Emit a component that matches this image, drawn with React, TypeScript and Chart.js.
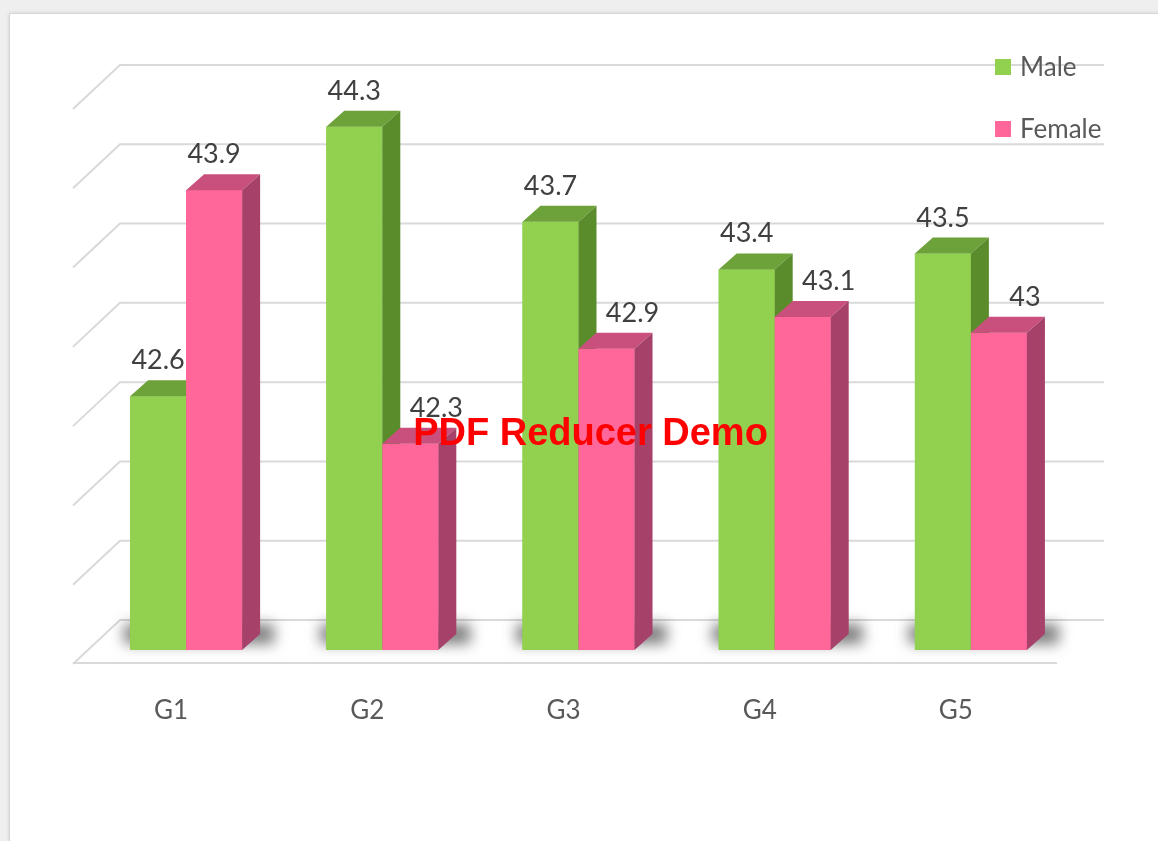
import React, { useEffect, useRef } from "react";
import { Chart, registerables } from "chart.js";

Chart.register(...registerables);

// ---- data ----
const categories = ["G1", "G2", "G3", "G4", "G5"];
const maleValues = [42.6, 44.3, 43.7, 43.4, 43.5];
const femaleValues = [43.9, 42.3, 42.9, 43.1, 43.0];
const seriesNames = ["Male", "Female"];
const yMin = 41;
const yMax = 44.5;
const yStep = 0.5;
const watermarkText = "PDF Reducer Demo";

// ---- styles ----
const FRONT = ["#92d050", "#ff6699"];
const TOP = ["#6da13a", "#c94f7c"];
const SIDE = ["#5b8c2c", "#a6426a"];
const DX = 18;
const DY = -16;
const FONT = "Lato, 'Open Sans', sans-serif";

const threeD = {
  id: "threeD",
  beforeDatasetsDraw(chart: any) {
    const { ctx, chartArea, scales } = chart;
    const y = scales.y;
    ctx.save();
    ctx.strokeStyle = "#d9d9d9";
    ctx.lineWidth = 2;
    const wl = chartArea.left + 32;
    const wr = chartArea.right + 35;
    const sx = chartArea.left - 15;
    y.ticks.forEach((t: any) => {
      const yb = y.getPixelForValue(t.value) - 30;
      ctx.beginPath();
      ctx.moveTo(sx, yb + 44);
      ctx.lineTo(wl, yb);
      ctx.lineTo(wr, yb);
      ctx.stroke();
    });
    const yf = y.getPixelForValue(yMin) + 13;
    ctx.beginPath();
    ctx.moveTo(sx, yf);
    ctx.lineTo(chartArea.right - 12, yf);
    ctx.stroke();

    // floor shadows
    const m0 = chart.getDatasetMeta(0).data;
    const m1 = chart.getDatasetMeta(1).data;
    const floor = y.getPixelForValue(yMin);
    ctx.filter = "blur(7px)";
    ctx.fillStyle = "rgba(40,40,40,0.6)";
    for (let i = 0; i < m0.length; i++) {
      const a = m0[i];
      const b = m1[i];
      const l = a.x - a.width / 2 - 6;
      const r = b.x + b.width / 2 + DX + 14;
      ctx.fillRect(l, floor - 26, r - l, 20);
    }
    ctx.restore();
  },
  afterDatasetsDraw(chart: any) {
    const { ctx, scales } = chart;
    const floor = scales.y.getPixelForValue(yMin);
    const n = chart.data.labels.length;
    ctx.save();
    for (let i = 0; i < n; i++) {
      for (let di = 0; di < chart.data.datasets.length; di++) {
        const el = chart.getDatasetMeta(di).data[i];
        const { x, y, width } = el.getProps(["x", "y", "width"], true);
        const l = x - width / 2;
        const r = x + width / 2;
        ctx.fillStyle = FRONT[di];
        ctx.fillRect(l, y, width, floor - y);
        ctx.fillStyle = TOP[di];
        ctx.beginPath();
        ctx.moveTo(l, y);
        ctx.lineTo(l + DX, y + DY);
        ctx.lineTo(r + DX, y + DY);
        ctx.lineTo(r, y);
        ctx.closePath();
        ctx.fill();
        ctx.fillStyle = SIDE[di];
        ctx.beginPath();
        ctx.moveTo(r, y);
        ctx.lineTo(r + DX, y + DY);
        ctx.lineTo(r + DX, floor + DY);
        ctx.lineTo(r, floor);
        ctx.closePath();
        ctx.fill();
      }
    }
    ctx.restore();
  },
  afterDraw(chart: any) {
    const { ctx, chartArea } = chart;
    ctx.save();
    // data labels
    ctx.font = `27px ${FONT}`;
    ctx.fillStyle = "#404040";
    ctx.textAlign = "center";
    ctx.textBaseline = "alphabetic";
    chart.data.datasets.forEach((ds: any, di: number) => {
      const meta = chart.getDatasetMeta(di);
      meta.data.forEach((el: any, i: number) => {
        const v = ds.data[i];
        const other = chart.data.datasets[1 - di].data[i];
        const shift = di === 1 && v < other ? 26 : 0;
        ctx.fillText(String(v), el.x + shift, el.y - 27);
      });
    });
    // legend
    ctx.textAlign = "left";
    ctx.textBaseline = "middle";
    ctx.font = `26px ${FONT}`;
    chart.data.datasets.forEach((ds: any, di: number) => {
      const cy = chartArea.top - 28 + di * 62;
      const lx = chartArea.right - 74;
      ctx.fillStyle = ds.backgroundColor;
      ctx.fillRect(lx, cy - 8, 16, 16);
      ctx.fillStyle = "#595959";
      ctx.fillText(ds.label, lx + 25, cy + 1);
    });
    // watermark
    ctx.font = "bold 38px 'Liberation Sans', Arial, sans-serif";
    ctx.fillStyle = "#ff0000";
    ctx.textAlign = "center";
    ctx.textBaseline = "alphabetic";
    ctx.fillText(watermarkText, (chartArea.left + chartArea.right) / 2 + 12, 445);
    ctx.restore();
  },
};

export default function App() {
  const ref = useRef<HTMLCanvasElement | null>(null);
  useEffect(() => {
    let chart: any = null;
    let cancelled = false;
    const make = () => {
      if (cancelled || !ref.current) return;
      chart = new Chart(ref.current, {
        type: "bar",
        data: {
          labels: categories,
          datasets: [
            { label: seriesNames[0], data: maleValues, backgroundColor: FRONT[0], categoryPercentage: 0.571, barPercentage: 1 },
            { label: seriesNames[1], data: femaleValues, backgroundColor: FRONT[1], categoryPercentage: 0.571, barPercentage: 1 },
          ],
        },
        options: {
          responsive: false,
          animation: false,
          layout: { padding: { left: 88, right: 89, top: 95, bottom: 0 } },
          plugins: { legend: { display: false }, tooltip: { enabled: false } },
          scales: {
            x: {
              grid: { display: false, drawTicks: false },
              border: { display: false },
              ticks: { color: "#595959", font: { family: FONT, size: 26 }, padding: 45, labelOffset: -15 },
              afterFit: (s: any) => { s.height = 191; },
            },
            y: {
              display: false,
              min: yMin,
              max: yMax,
              ticks: { stepSize: yStep },
            },
          },
        },
        plugins: [threeD],
      });
    };
    const fonts: any = (document as any).fonts;
    if (fonts && fonts.load) {
      Promise.all([fonts.load(`27px Lato`), fonts.load(`bold 38px 'Liberation Sans'`)]).then(make, make);
    } else make();
    return () => {
      cancelled = true;
      if (chart) chart.destroy();
    };
  }, []);

  return (
    <div style={{ position: "fixed", left: 0, top: 0, width: 1158, height: 841, background: "#efefef", overflow: "hidden" }}>
      <div
        style={{
          position: "absolute",
          left: 9,
          top: 13,
          width: 1200,
          height: 900,
          background: "#ffffff",
          border: "1px solid #d6d6d6",
          boxShadow: "0 0 4px rgba(0,0,0,0.12)",
        }}
      />
      <canvas ref={ref} width={1158} height={841} style={{ position: "absolute", left: 0, top: 0 }} />
    </div>
  );
}
